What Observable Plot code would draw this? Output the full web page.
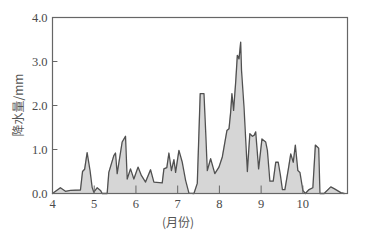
<!DOCTYPE html>
<html>
<head>
<meta charset="utf-8">
<script src="https://cdn.jsdelivr.net/npm/d3@7"></script>
<script src="https://cdn.jsdelivr.net/npm/@observablehq/plot@0.6"></script>
<style>
  html, body { margin: 0; padding: 0; background: #fff; }
  #wrap { position: relative; width: 387px; height: 241px; }
  #xtitle { position: absolute; left: 178px; top: 213px; transform: translateX(-50%);
    font: 12px "Noto Sans CJK SC", sans-serif; color: #555; white-space: nowrap; }
  #ytitle { position: absolute; left: 17px; top: 105px; transform: translate(-50%, -50%) rotate(-90deg);
    font: 12px "Noto Sans CJK SC", sans-serif; color: #555; white-space: nowrap; }
</style>
</head>
<body>
<div id="wrap"><div id="xtitle">(月份)</div><div id="ytitle">降水量/mm</div></div>
<script>
const months = [4.00,4.19,4.31,4.43,4.67,4.72,4.77,4.83,4.90,4.95,4.99,5.07,5.15,5.19,5.31,5.35,5.47,5.51,5.55,5.67,5.75,5.79,5.87,5.95,6.05,6.13,6.23,6.35,6.43,6.63,6.67,6.74,6.79,6.85,6.91,6.95,7.03,7.11,7.19,7.27,7.39,7.47,7.54,7.63,7.67,7.71,7.79,7.89,7.99,8.07,8.11,8.18,8.23,8.27,8.30,8.34,8.39,8.43,8.47,8.51,8.53,8.59,8.67,8.73,8.79,8.83,8.87,8.94,9.02,9.11,9.15,9.21,9.29,9.35,9.41,9.46,9.51,9.57,9.66,9.71,9.77,9.82,9.88,9.93,10.00,10.06,10.15,10.24,10.30,10.38,10.41,10.51,10.67,10.75,10.91,10.99];
const rain = [0.00,0.13,0.05,0.07,0.08,0.50,0.55,0.93,0.52,0.14,0.03,0.13,0.07,0.00,0.00,0.48,0.86,0.92,0.45,1.17,1.30,0.33,0.56,0.33,0.60,0.41,0.26,0.54,0.26,0.24,0.56,0.59,0.92,0.52,0.77,0.48,0.98,0.71,0.30,0.01,0.00,0.23,2.27,2.27,1.43,0.52,0.79,0.45,0.60,0.83,1.05,1.43,1.47,1.85,2.27,1.89,2.53,3.14,3.06,3.44,2.80,1.96,0.50,1.36,1.30,1.32,1.40,0.56,1.24,1.17,0.98,0.28,0.28,0.71,0.71,0.43,0.09,0.09,0.60,0.90,0.71,1.10,0.52,0.48,0.07,0.00,0.09,0.13,1.10,1.03,0.00,0.00,0.15,0.11,0.02,0.00];
const xTicks = [4,5,6,7,8,9,10];
const yTicks = [0,1,2,3,4];

const data = months.map((m, i) => ({month: m, rain: rain[i]}));
const axisColor = "#666";

const chart = Plot.plot({
  width: 387,
  height: 241,
  marginLeft: 52,
  marginRight: 40,
  marginTop: 17,
  marginBottom: 48,
  style: {fontFamily: "'Liberation Serif', serif", fontSize: "12.5px", color: "#4a4a4a", background: "transparent"},
  x: {domain: [4, 11.07]},
  y: {domain: [0, 4]},
  marks: [
    Plot.areaY(data, {x: "month", y: "rain", fill: "#d6d6d6"}),
    Plot.lineY(data, {x: "month", y: "rain", stroke: "#505050", strokeWidth: 1.3}),
    Plot.ruleX(xTicks.slice(1), {y1: 0, y2: 0.17, stroke: axisColor, strokeWidth: 1}),
    Plot.ruleY(yTicks.slice(1, -1), {x1: 4, x2: 4.13, stroke: axisColor, strokeWidth: 1}),
    Plot.frame({stroke: axisColor, strokeWidth: 1.2}),
    Plot.axisX({ticks: xTicks, tickFormat: "d", tickSize: 0, tickPadding: 6, label: null}),
    Plot.axisY({ticks: yTicks, tickFormat: d3.format(".1f"), tickSize: 0, tickPadding: 5, label: null})
  ]
});
document.getElementById("wrap").appendChild(chart);
chart.style.position = "absolute";
chart.style.left = "0";
chart.style.top = "0";
</script>
</body>
</html>
